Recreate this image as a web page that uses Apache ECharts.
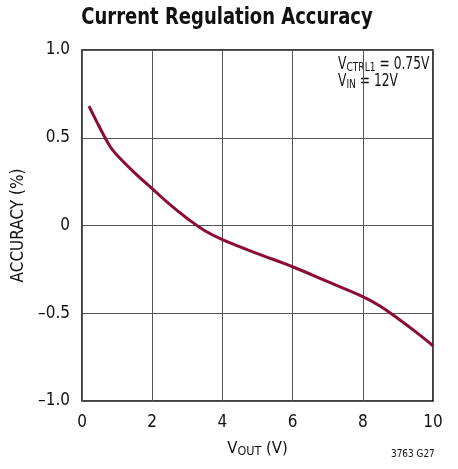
<!DOCTYPE html>
<html><head><meta charset="utf-8">
<script src="https://cdn.jsdelivr.net/npm/echarts@6/dist/echarts.min.js"></script>
<style>html,body{margin:0;padding:0;background:#fff}#c{width:458px;height:469px}</style>
</head><body><div id="c"></div>
<script>
const vout = [0.2, 0.5, 0.8, 1.0, 1.5, 2.0, 2.5, 3.0, 3.5, 4.0, 5.0, 6.0, 7.0, 8.0, 8.5, 9.0, 9.5, 10.0];
const accuracy = [0.68, 0.56, 0.45, 0.40, 0.30, 0.21, 0.12, 0.04, -0.03, -0.08, -0.16, -0.235, -0.32, -0.405, -0.46, -0.53, -0.605, -0.685];
const yTickLabels = {'1': '1.0', '0.5': '0.5', '0': '0', '-0.5': '\u20130.5', '-1': '\u20131.0'};
const FONT = '"Liberation Sans Narrow", "DejaVu Sans Condensed", "Liberation Sans", sans-serif';

const chart = echarts.init(document.getElementById('c'));
const sub = {a: {fontFamily: FONT, fontSize: 17.5, fill: '#111'}, b: {fontFamily: FONT, fontSize: 13, fill: '#111', padding: [6, 0, 0, 0]}};
chart.setOption({
  animation: false,
  grid: {left: 82, right: 25, top: 50, bottom: 68, show: true, borderColor: '#000', borderWidth: 1.5, containLabel: false},
  xAxis: {
    type: 'value', min: 0, max: 10, interval: 2,
    axisLine: {show: false}, axisTick: {show: false},
    splitLine: {lineStyle: {color: '#555', width: 1}},
    axisLabel: {fontFamily: FONT, fontSize: 17, color: '#111', margin: 13},
    name: '{a|V}{b|OUT}{a| (V)}', nameLocation: 'middle', nameGap: 38,
    nameTextStyle: {rich: {a: {fontFamily: FONT, fontSize: 16.5, color: '#111'}, b: {fontFamily: FONT, fontSize: 12.5, color: '#111', padding: [6, 0, 0, 0]}}}
  },
  yAxis: {
    type: 'value', min: -1, max: 1, interval: 0.5,
    axisLine: {show: false}, axisTick: {show: false},
    splitLine: {lineStyle: {color: '#555', width: 1}},
    axisLabel: {fontFamily: FONT, fontSize: 17, color: '#111', margin: 12, formatter: v => yTickLabels[String(v)]},
    name: 'ACCURACY (%)', nameLocation: 'middle', nameGap: 48, nameRotate: 90,
    nameTextStyle: {fontFamily: FONT, fontSize: 17, color: '#111'}
  },
  graphic: [
    {type: 'text', x: 227, y: 7, scaleX: 0.87, style: {text: 'Current Regulation Accuracy', fontFamily: FONT, fontWeight: 'bold', fontSize: 23, fill: '#111', textAlign: 'center', textVerticalAlign: 'top'}},
    {type: 'text', x: 338, y: 55, scaleX: 0.78, style: {text: '{a|V}{b|CTRL1}{a| = 0.75V}', rich: sub}},
    {type: 'text', x: 338, y: 72, scaleX: 0.78, style: {text: '{a|V}{b|IN}{a| = 12V}', rich: sub}},
    {type: 'text', x: 391, y: 449, scaleX: 0.9, style: {text: '3763 G27', fontFamily: FONT, fontSize: 11, fill: '#111'}}
  ],
  series: [{
    type: 'line', smooth: 0.4, symbol: 'none',
    data: vout.map((x, i) => [x, accuracy[i]]),
    lineStyle: {color: '#8c0b33', width: 3}
  }]
});
</script></body></html>
